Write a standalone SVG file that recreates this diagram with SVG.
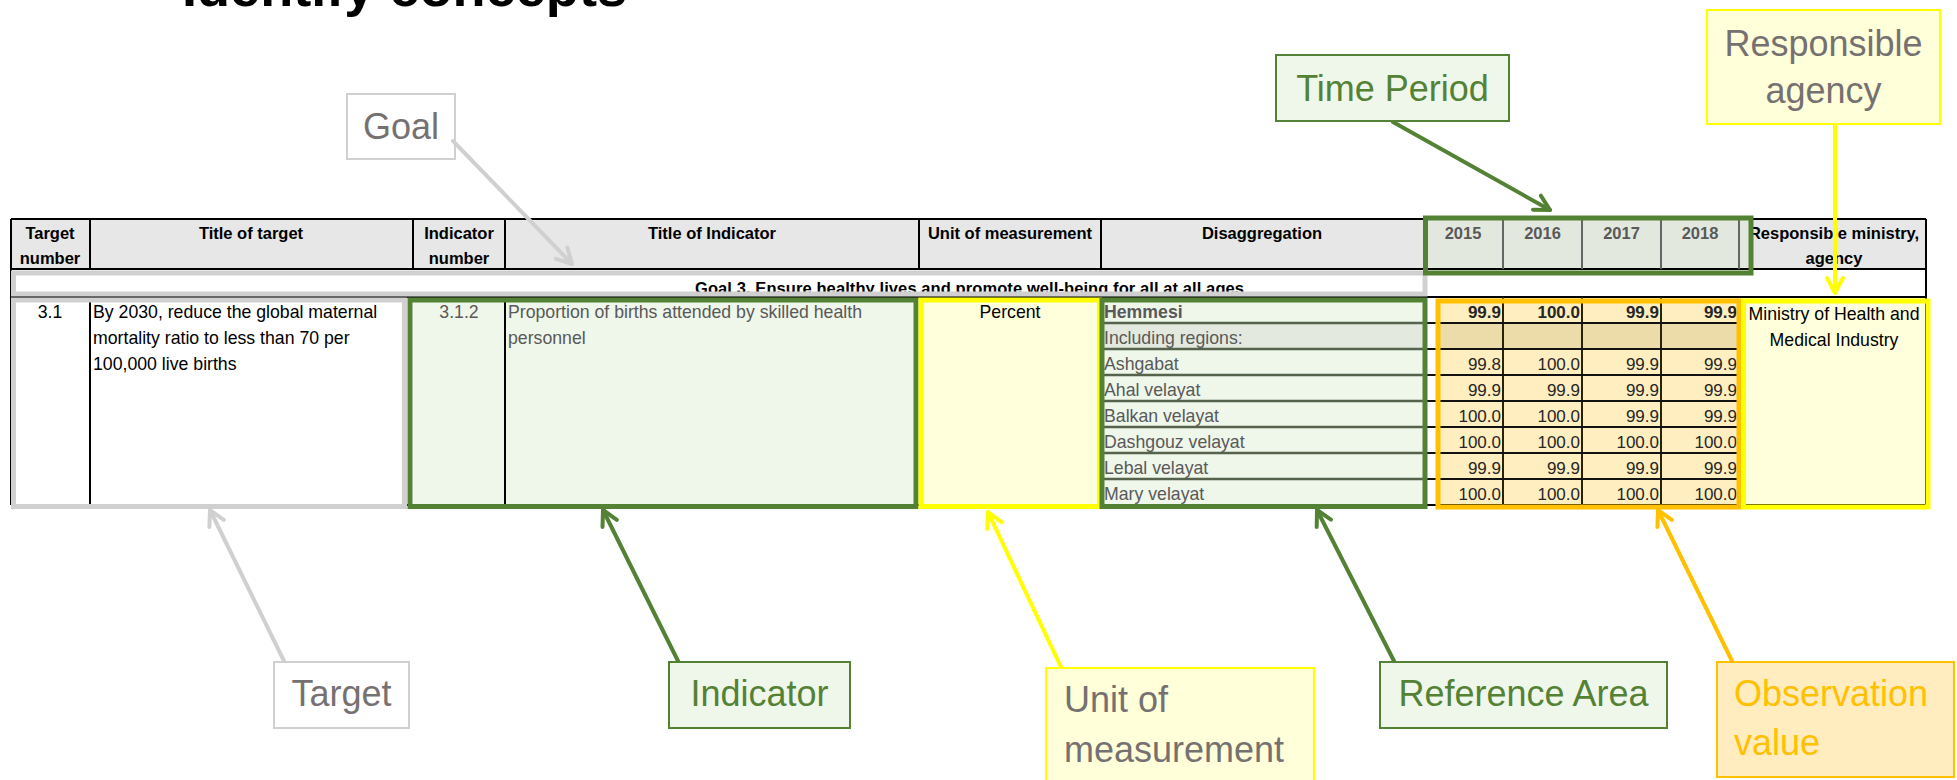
<svg xmlns="http://www.w3.org/2000/svg" width="1957" height="780" viewBox="0 0 1957 780">
<defs>
<style>
text{font-family:"Liberation Sans",Arial,sans-serif}
.hd{font-size:16.5px;font-weight:bold;fill:#000;text-anchor:middle}
.hy{font-size:16.5px;font-weight:bold;fill:#595959;text-anchor:middle}
.dt{font-size:17.7px;fill:#000}
.dg{font-size:17.7px;fill:#595959}
.val{font-size:17px;fill:#262626;text-anchor:end}
.vb{font-weight:bold}
.mid{text-anchor:middle}
.lbl{font-size:36px}
.tg{fill:#767171}
.tgr{fill:#548235}
.tor{fill:#ffc000}
.g{stroke:#000;stroke-width:2;fill:none}
.hl{fill:none;stroke-width:5}
.box-gray{fill:#fff;stroke:#d0d0d0;stroke-width:2}
.box-green{fill:#eff6ea;stroke:#548235;stroke-width:2}
.box-yellow{fill:#ffffd9;stroke:#ffff00;stroke-width:2}
.box-orange{fill:#ffecbf;stroke:#ffc000;stroke-width:2}
.conn{fill:none;stroke-width:4;stroke-linecap:round}
</style>
<marker id="ah-gray" viewBox="-17 -10 19 20" refX="0" refY="0" markerWidth="19" markerHeight="20" markerUnits="userSpaceOnUse" orient="auto" overflow="visible"><path d="M-15,-8 L0,0 L-15,8" fill="none" stroke="#d0d0d0" stroke-width="4" stroke-linecap="round" stroke-linejoin="round"/></marker>
<marker id="ah-green" viewBox="-17 -10 19 20" refX="0" refY="0" markerWidth="19" markerHeight="20" markerUnits="userSpaceOnUse" orient="auto" overflow="visible"><path d="M-15,-8 L0,0 L-15,8" fill="none" stroke="#548235" stroke-width="4" stroke-linecap="round" stroke-linejoin="round"/></marker>
<marker id="ah-yellow" viewBox="-17 -10 19 20" refX="0" refY="0" markerWidth="19" markerHeight="20" markerUnits="userSpaceOnUse" orient="auto" overflow="visible"><path d="M-15,-8 L0,0 L-15,8" fill="none" stroke="#ffff00" stroke-width="4" stroke-linecap="round" stroke-linejoin="round"/></marker>
<marker id="ah-orange" viewBox="-17 -10 19 20" refX="0" refY="0" markerWidth="19" markerHeight="20" markerUnits="userSpaceOnUse" orient="auto" overflow="visible"><path d="M-15,-8 L0,0 L-15,8" fill="none" stroke="#ffc000" stroke-width="4" stroke-linecap="round" stroke-linejoin="round"/></marker>
</defs>
<rect x="0" y="0" width="1957" height="780" fill="#fff"/>
<text x="182" y="6" font-size="54" font-weight="bold" textLength="445" lengthAdjust="spacingAndGlyphs">Identify concepts</text>

<g id="table">
<rect x="11" y="219" width="1915" height="50" fill="#e7e7e7"/>
<rect x="1423" y="219" width="329" height="50" fill="#e3e8df"/>
<rect x="413" y="297" width="506" height="208" fill="#eff6ea"/>
<rect x="919" y="297" width="182" height="208" fill="#ffffdb"/>
<rect x="1101" y="297" width="322" height="208" fill="#eff6ea"/>
<rect x="1101" y="323" width="322" height="26" fill="#e3e9df"/>
<rect x="1438" y="297" width="301" height="208" fill="#ffeebf"/>
<rect x="1438" y="323" width="301" height="26" fill="#ecdcaa"/>
<rect x="1739" y="297" width="187" height="208" fill="#ffffdb"/>
<text class="hd" x="50" y="239">Target</text>
<text class="hd" x="50" y="264">number</text>
<text class="hd" x="251" y="239">Title of target</text>
<text class="hd" x="459" y="239">Indicator</text>
<text class="hd" x="459" y="264">number</text>
<text class="hd" x="712" y="239">Title of Indicator</text>
<text class="hd" x="1010" y="239">Unit of measurement</text>
<text class="hd" x="1262" y="239">Disaggregation</text>
<text class="hy" x="1463" y="239">2015</text>
<text class="hy" x="1542.5" y="239">2016</text>
<text class="hy" x="1621.5" y="239">2017</text>
<text class="hy" x="1700" y="239">2018</text>
<text class="hd" x="1834" y="239">Responsible ministry,</text>
<text class="hd" x="1834" y="264">agency</text>
<text class="hd" x="969.5" y="294" textLength="549">Goal 3. Ensure healthy lives and promote well-being for all at all ages</text>
<text class="dt mid" x="50" y="318">3.1</text>
<text class="dt" x="93" y="318">By 2030, reduce the global maternal</text>
<text class="dt" x="93" y="344">mortality ratio to less than 70 per</text>
<text class="dt" x="93" y="370">100,000 live births</text>
<text class="dg mid" x="459" y="318">3.1.2</text>
<text class="dg" x="508" y="318">Proportion of births attended by skilled health</text>
<text class="dg" x="508" y="344">personnel</text>
<text class="dt mid" x="1010" y="318" fill="#333">Percent</text>
<text class="dg vb" x="1104" y="318">Hemmesi</text>
<text class="dg" x="1104" y="344">Including regions:</text>
<text class="dg" x="1104" y="370">Ashgabat</text>
<text class="dg" x="1104" y="396">Ahal velayat</text>
<text class="dg" x="1104" y="422">Balkan velayat</text>
<text class="dg" x="1104" y="448">Dashgouz velayat</text>
<text class="dg" x="1104" y="474">Lebal velayat</text>
<text class="dg" x="1104" y="500">Mary velayat</text>
<g class="val">
<text class="vb" x="1501" y="318">99.9</text><text class="vb" x="1580" y="318">100.0</text><text class="vb" x="1659" y="318">99.9</text><text class="vb" x="1737" y="318">99.9</text>
<text x="1501" y="370">99.8</text><text x="1580" y="370">100.0</text><text x="1659" y="370">99.9</text><text x="1737" y="370">99.9</text>
<text x="1501" y="396">99.9</text><text x="1580" y="396">99.9</text><text x="1659" y="396">99.9</text><text x="1737" y="396">99.9</text>
<text x="1501" y="422">100.0</text><text x="1580" y="422">100.0</text><text x="1659" y="422">99.9</text><text x="1737" y="422">99.9</text>
<text x="1501" y="448">100.0</text><text x="1580" y="448">100.0</text><text x="1659" y="448">100.0</text><text x="1737" y="448">100.0</text>
<text x="1501" y="474">99.9</text><text x="1580" y="474">99.9</text><text x="1659" y="474">99.9</text><text x="1737" y="474">99.9</text>
<text x="1501" y="500">100.0</text><text x="1580" y="500">100.0</text><text x="1659" y="500">100.0</text><text x="1737" y="500">100.0</text>
</g>
<text class="dt mid" x="1834" y="320" fill="#262626">Ministry of Health and</text>
<text class="dt mid" x="1834" y="346" fill="#262626">Medical Industry</text>
<path class="g" stroke-width="2.5" d="M11,219H1926M11,269H1926M11,297H1926M1926,219V505"/>
<path class="g" d="M11,219V505M11,505H1926M90,219V269M413,219V269M505,219V269M919,219V269M1101,219V269M90,297V505M505,297V505"/>
<path fill="none" stroke="#666" stroke-width="2" d="M1503,219V269M1582,219V269M1661,219V269M1739,219V269"/>
<path fill="none" stroke="#2a2200" stroke-width="2" d="M1503,297V505M1582,297V505M1661,297V505"/>
<path fill="none" stroke="#55624c" stroke-width="2.5" d="M1101,323H1425M1101,349H1425M1101,375H1425M1101,401H1425M1101,427H1425M1101,453H1425M1101,479H1425"/>
<path fill="none" stroke="#111" stroke-width="2" d="M1425,323H1739M1425,349H1739M1425,375H1739M1425,401H1739M1425,427H1739M1425,453H1739M1425,479H1739"/>
<rect class="hl" stroke="#d0d0d0" x="13.5" y="273" width="1411.5" height="21"/>
<rect class="hl" stroke="#d0d0d0" x="13.5" y="300" width="391" height="206.5"/>
<rect class="hl" stroke="#548235" x="410" y="300" width="506" height="206.5"/>
<rect class="hl" stroke="#ffff00" x="921" y="300" width="178.5" height="206.5"/>
<rect class="hl" stroke="#548235" x="1102" y="300" width="323" height="206.5"/>
<rect class="hl" stroke="#548235" x="1425.5" y="218" width="325.5" height="55"/>
<rect class="hl" stroke="#ffc000" x="1438" y="301" width="301" height="206"/>
<rect class="hl" stroke="#ffff00" x="1743.5" y="301" width="184.5" height="206"/>
</g>

<g id="node-goal"><rect class="box-gray" x="347" y="94" width="108" height="65"/><text class="lbl tg mid" x="401" y="139">Goal</text></g>
<g id="node-time-period"><rect class="box-green" x="1276" y="55" width="233" height="66"/><text class="lbl tgr mid" x="1392.5" y="101">Time Period</text></g>
<g id="node-responsible-agency"><rect class="box-yellow" x="1707" y="10" width="233" height="114"/><text class="lbl tg mid" x="1823.5" y="56">Responsible</text><text class="lbl tg mid" x="1823.5" y="103">agency</text></g>
<g id="node-target"><rect class="box-gray" x="274" y="662" width="135" height="66"/><text class="lbl tg mid" x="341.5" y="706">Target</text></g>
<g id="node-indicator"><rect class="box-green" x="669" y="662" width="181" height="66"/><text class="lbl tgr mid" x="759.5" y="706">Indicator</text></g>
<g id="node-unit"><rect class="box-yellow" x="1046" y="668" width="268" height="116"/><text class="lbl tg" x="1064" y="712">Unit of</text><text class="lbl tg" x="1064" y="762">measurement</text></g>
<g id="node-reference-area"><rect class="box-green" x="1380" y="662" width="287" height="66"/><text class="lbl tgr mid" x="1523.5" y="706">Reference Area</text></g>
<g id="node-observation"><rect class="box-orange" x="1717" y="662" width="237" height="115"/><text class="lbl tor" x="1734" y="706">Observation</text><text class="lbl tor" x="1734" y="755">value</text></g>

<g id="connectors">
<line class="conn" stroke="#d0d0d0" x1="453" y1="141" x2="572" y2="264" marker-end="url(#ah-gray)"/>
<line class="conn" stroke="#d0d0d0" x1="284" y1="661" x2="210" y2="510" marker-end="url(#ah-gray)"/>
<line class="conn" stroke="#548235" x1="678" y1="661" x2="603" y2="510" marker-end="url(#ah-green)"/>
<line class="conn" stroke="#ffff00" x1="1061" y1="667" x2="988" y2="512" marker-end="url(#ah-yellow)"/>
<line class="conn" stroke="#548235" x1="1394" y1="661" x2="1317" y2="510" marker-end="url(#ah-green)"/>
<line class="conn" stroke="#ffc000" x1="1732" y1="661" x2="1658" y2="510" marker-end="url(#ah-orange)"/>
<line class="conn" stroke="#548235" x1="1393" y1="122" x2="1550" y2="210" marker-end="url(#ah-green)"/>
<line class="conn" stroke="#ffff00" x1="1835" y1="125" x2="1835" y2="293" marker-end="url(#ah-yellow)"/>
</g>
</svg>
